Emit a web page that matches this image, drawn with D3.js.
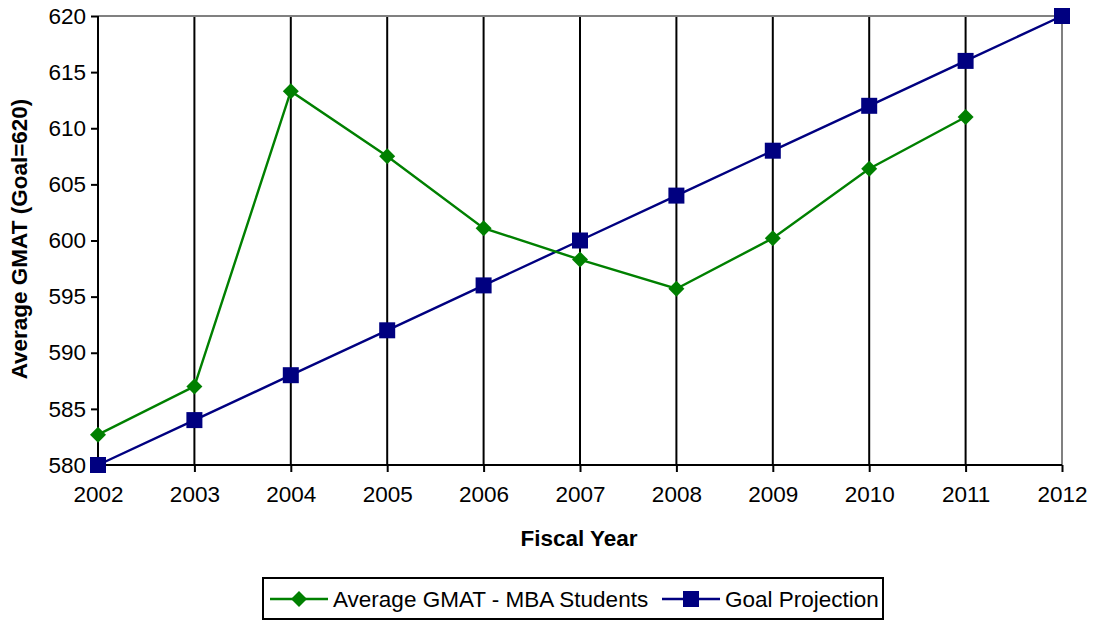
<!DOCTYPE html>
<html><head><meta charset="utf-8">
<script src="https://cdn.jsdelivr.net/npm/d3@7"></script>
<style>body{margin:0;background:#fff}svg{display:block;font-family:"Liberation Sans",Arial,sans-serif}</style>
</head><body><svg id="c" width="1095" height="620"></svg>
<script>
const years = [2002,2003,2004,2005,2006,2007,2008,2009,2010,2011,2012];
const gmatYears = [2002,2003,2004,2005,2006,2007,2008,2009,2010,2011];
const gmatValues = [582.7,587.0,613.3,607.5,601.1,598.3,595.7,600.2,606.4,611.0];
const goalValues = [580,584,588,592,596,600,604,608,612,616,620];
const yTicks = [580,585,590,595,600,605,610,615,620];
const seriesNames = ["Average GMAT - MBA Students","Goal Projection"];
const colors = ["#008000","#000080"];

const FS = 22.5;
const svg = d3.select("#c");
const L=98,R=1062,T=16,B=465;
const x = d3.scaleLinear().domain([2002,2012]).range([L,R]);
const y = d3.scaleLinear().domain([580,620]).range([B,T]);

// gridlines
svg.append("g").selectAll("line").data(years.slice(1,-1)).join("line")
 .attr("x1",d=>x(d)).attr("x2",d=>x(d)).attr("y1",T).attr("y2",B)
 .attr("stroke","#000").attr("stroke-width",2);
// top and right border
svg.append("line").attr("x1",L).attr("x2",R).attr("y1",T).attr("y2",T).attr("stroke","#808080").attr("stroke-width",2);
svg.append("line").attr("x1",R).attr("x2",R).attr("y1",T).attr("y2",B).attr("stroke","#808080").attr("stroke-width",2);

// axes
const ya = svg.append("g").attr("transform",`translate(${L},0)`)
 .call(d3.axisLeft(y).tickValues(yTicks).tickSize(7).tickPadding(5).tickFormat(d3.format("d")));
const xa = svg.append("g").attr("transform",`translate(0,${B})`)
 .call(d3.axisBottom(x).tickValues(years).tickSize(7).tickPadding(14).tickFormat(d3.format("d")));
[ya,xa].forEach(a=>{
 a.attr("font-size",FS).attr("font-family","Liberation Sans, Arial, sans-serif");
 a.select(".domain").attr("stroke","#000").attr("stroke-width",2);
 a.selectAll(".tick line").attr("stroke","#000").attr("stroke-width",2);
 a.selectAll("text").attr("fill","#000");
});
ya.select(".domain").attr("d",`M0,${B}V${T}`);
xa.select(".domain").attr("d",`M${L},0H${R}`);

// titles
svg.append("text").attr("x",579).attr("y",546).attr("text-anchor","middle")
 .attr("font-size",FS).attr("font-weight","bold").text("Fiscal Year");
svg.append("text").attr("transform",`translate(27,239) rotate(-90)`).attr("text-anchor","middle")
 .attr("font-size",FS).attr("font-weight","bold").text("Average GMAT (Goal=620)");

const line = d3.line().x(d=>x(d[0])).y(d=>y(d[1]));
const gmat = gmatYears.map((d,i)=>[d,gmatValues[i]]);
const goal = years.map((d,i)=>[d,goalValues[i]]);

svg.append("path").datum(goal).attr("d",line).attr("fill","none").attr("stroke",colors[1]).attr("stroke-width",2.4);
svg.append("path").datum(gmat).attr("d",line).attr("fill","none").attr("stroke",colors[0]).attr("stroke-width",2.4);

const diamond = s=>`M0,${-s}L${s},0L0,${s}L${-s},0Z`;
svg.append("g").selectAll("path").data(gmat).join("path")
 .attr("transform",d=>`translate(${x(d[0])},${y(d[1])})`).attr("d",diamond(8)).attr("fill",colors[0]);
svg.append("g").selectAll("rect").data(goal).join("rect")
 .attr("x",d=>x(d[0])-8).attr("y",d=>y(d[1])-8).attr("width",16).attr("height",16).attr("fill",colors[1]);

// legend
const lg = svg.append("g");
lg.append("rect").attr("x",263).attr("y",578).attr("width",620).attr("height",41).attr("fill","#fff").attr("stroke","#000").attr("stroke-width",2);
const ly=599;
lg.append("line").attr("x1",270).attr("x2",328).attr("y1",ly).attr("y2",ly).attr("stroke",colors[0]).attr("stroke-width",2.4);
lg.append("path").attr("transform",`translate(299,${ly})`).attr("d",diamond(8)).attr("fill",colors[0]);
lg.append("text").attr("x",333).attr("y",ly+8).attr("font-size",FS).text(seriesNames[0]);
lg.append("line").attr("x1",662).attr("x2",720).attr("y1",ly).attr("y2",ly).attr("stroke",colors[1]).attr("stroke-width",2.4);
lg.append("rect").attr("x",683).attr("y",ly-8).attr("width",16).attr("height",16).attr("fill",colors[1]);
lg.append("text").attr("x",725).attr("y",ly+8).attr("font-size",FS).text(seriesNames[1]);
</script></body></html>
